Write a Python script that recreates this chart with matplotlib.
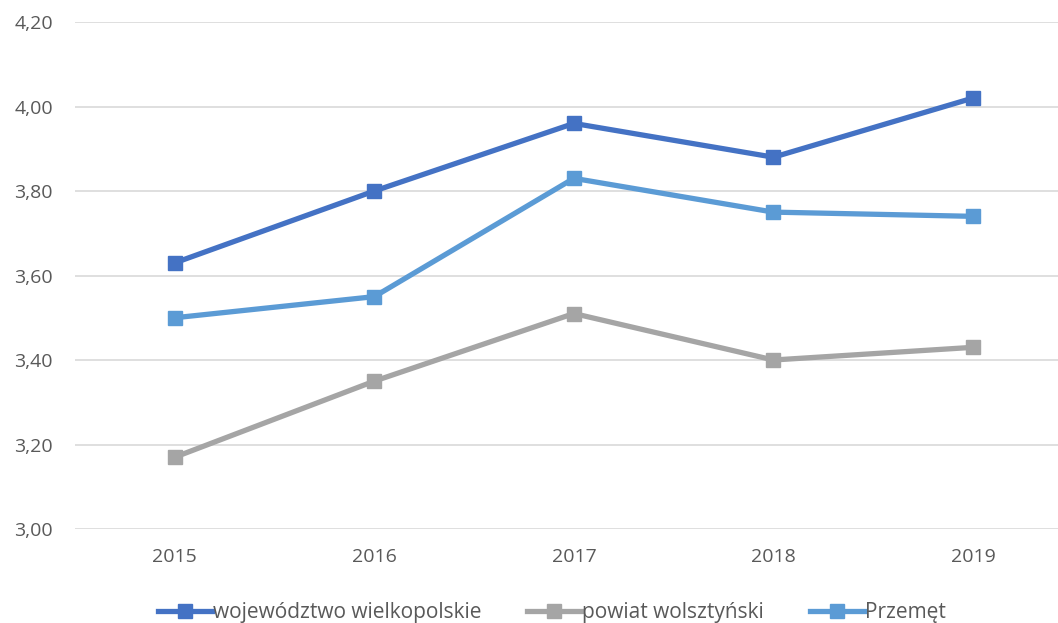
from matplotlib import pyplot as plt
from matplotlib.ticker import FuncFormatter

years = ["2015", "2016", "2017", "2018", "2019"]
wojewodztwo = [3.63, 3.80, 3.96, 3.88, 4.02]
powiat = [3.17, 3.35, 3.51, 3.40, 3.43]
przemet = [3.50, 3.55, 3.83, 3.75, 3.74]

series_names = ["województwo wielkopolskie", "powiat wolsztyński", "Przemęt"]
series_colors = ["#4472C4", "#A5A5A5", "#5B9BD5"]

plt.rcParams['font.family'] = ['Open Sans', 'DejaVu Sans']

fig = plt.figure(figsize=(10.58, 6.23), dpi=100)
ax = fig.add_axes([75 / 1058, 94 / 623, 983 / 1058, 507 / 623])

x = range(len(years))
for values, name, color in zip([wojewodztwo, powiat, przemet], series_names, series_colors):
    ax.plot(x, values, color=color, linewidth=3.8, marker="s", markersize=10,
            label=name, solid_joinstyle="round")

ax.set_ylim(3.0, 4.2)
ax.set_yticks([3.0, 3.2, 3.4, 3.6, 3.8, 4.0, 4.2])
ax.yaxis.set_major_formatter(FuncFormatter(lambda v, p: f"{v:.2f}".replace(".", ",")))
ax.set_xlim(-0.5, 4.426)
ax.set_xticks(list(x))
ax.set_xticklabels(years)

ax.grid(axis="y", color="#D9D9D9", linewidth=1.2)
ax.set_axisbelow(True)
for s in ax.spines.values():
    s.set_visible(False)
ax.tick_params(axis="both", length=0, labelsize=14, colors="#595959")
ax.tick_params(axis="x", pad=14)
ax.tick_params(axis="y", pad=16)

leg = ax.legend(loc="lower center", bbox_to_anchor=(0.485, -0.222), ncol=3, frameon=False,
                fontsize=15, handlelength=2.6, columnspacing=2.2, handletextpad=0.05)
for t in leg.get_texts():
    t.set_color("#595959")

fig.savefig("out.png", dpi=100)
